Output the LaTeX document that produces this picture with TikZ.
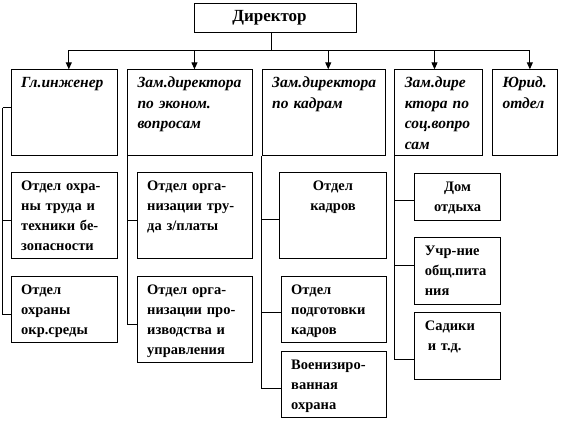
\documentclass[tikz,border=0pt]{standalone}
\usepackage{fontspec}
\setmainfont{Liberation Serif}
\usepackage{tikz}
\usetikzlibrary{arrows.meta}

\begin{document}
\begin{tikzpicture}[
        x=1pt, y=-1pt,
        line width=1pt,
        chief/.style={draw, anchor=north west, inner sep=0pt,
                      minimum width=162pt, minimum height=29pt,
                      font=\fontsize{17}{20}\selectfont\bfseries},
        unit/.style={draw, anchor=north west, inner xsep=10pt, inner ysep=0pt,
                     align=left, text height=18pt,
                     font=\fontsize{15.5}{20.5}\selectfont\bfseries\itshape},
        dept/.style={unit, font=\fontsize{14.5}{20}\selectfont\bfseries},
        arr/.style={-{Triangle[length=7pt,width=6pt]}}
    ]
        \useasboundingbox (0,0) rectangle (561,421);

        % top level
        \node[chief] (dir) at (194,2.7) {Директор\hspace*{12pt}};

        \node[unit, text width=86pt,    text depth=67.7pt] (eng)  at (10.7,69.3)  {Гл.инженер};
        \node[unit, text width=104.7pt, text depth=67.7pt] (econ) at (127,69.3)   {Зам.директора\\по эконом.\\вопросам};
        \node[unit, text width=103.3pt, text depth=67.7pt] (pers) at (261.7,69.3) {Зам.директора\\по кадрам};
        \node[unit, text width=67.4pt,  text depth=67.7pt] (soc)  at (394.3,69.3) {Зам.дире\\ктора по\\соц.вопро\\сам};
        \node[unit, text width=44.7pt,  text depth=67.7pt] (law)  at (492,69.3)   {Юрид.\\отдел};

        % departments
        \node[dept, text width=86pt, text depth=68.3pt] (oh1) at (10.7,171.7) {Отдел охра-\\ны труда и\\техники бе-\\зопасности};
        \node[dept, text width=86pt, text depth=48.3pt] (oh2) at (10.7,275.7) {Отдел\\охраны\\окр.среды};
        \node[dept, text width=95pt, text depth=68.3pt] (ot1) at (136.7,171.7) {Отдел орга-\\низации тру-\\да з/платы};
        \node[dept, text width=95pt, text depth=68.3pt] (ot2) at (136.7,275.7) {Отдел орга-\\низации про-\\изводства и\\управления};
        \node[dept, text width=86.4pt, text depth=68.3pt, align=center] (kad) at (279.3,171.7) {Отдел\\кадров};
        \node[dept, text width=85pt, text depth=48.6pt] (pod) at (280.7,275.7) {Отдел\\подготовки\\кадров};
        \node[dept, text width=85pt, text depth=48.6pt] (voh) at (280.7,350.7) {Военизиро-\\ванная\\охрана};
        \node[dept, text width=65.7pt, text depth=29.3pt, align=center] (dom) at (414.3,172.7) {Дом\\отдыха};
        \node[dept, text width=65.7pt, text depth=48.7pt] (pit) at (414.3,237.3) {Учр-ние\\общ.пита\\ния};
        \node[dept, text width=65.7pt, text depth=49pt]   (sad) at (414.3,312.3) {Садики\\\hspace*{3pt}и т.д.};

        % director to deputies
        \coordinate (hub) at (271,50);
        \draw (dir.south -| hub) -- (hub);
        \draw[arr] (hub) -| ([xshift=4.6pt]eng.north);
        \draw[arr] (hub) -| ([xshift=4.6pt]econ.north);
        \draw[arr] (hub) -| ([xshift=4.4pt]pers.north);
        \draw[arr] (hub) -| ([xshift=-4pt]soc.north);
        \draw[arr] (hub) -| ([xshift=5pt]law.north);

        % deputies to departments
        \draw ([yshift=5pt]eng.west) -- ++(-8,0) coordinate (rail);
        \draw (rail) |- ([yshift=-5pt]oh1.west);
        \draw (rail) |- ([yshift=-5pt]oh2.west);
        \draw (econ.south west) |- ([yshift=-5pt]ot1.west);
        \draw (econ.south west) |- ([yshift=-5pt]ot2.west);
        \draw (pers.south west) |- ([yshift=-4pt]kad.west);
        \draw (pers.south west) |- ([yshift=-3pt]pod.west);
        \draw (pers.south west) |- ([yshift=-4pt]voh.west);
        \draw (soc.south west) |- ([yshift=-4pt]dom.west);
        \draw (soc.south west) |- ([yshift=6pt]pit.west);
        \draw (soc.south west) |- ([yshift=-13.5pt]sad.west);
\end{tikzpicture}
\end{document}
